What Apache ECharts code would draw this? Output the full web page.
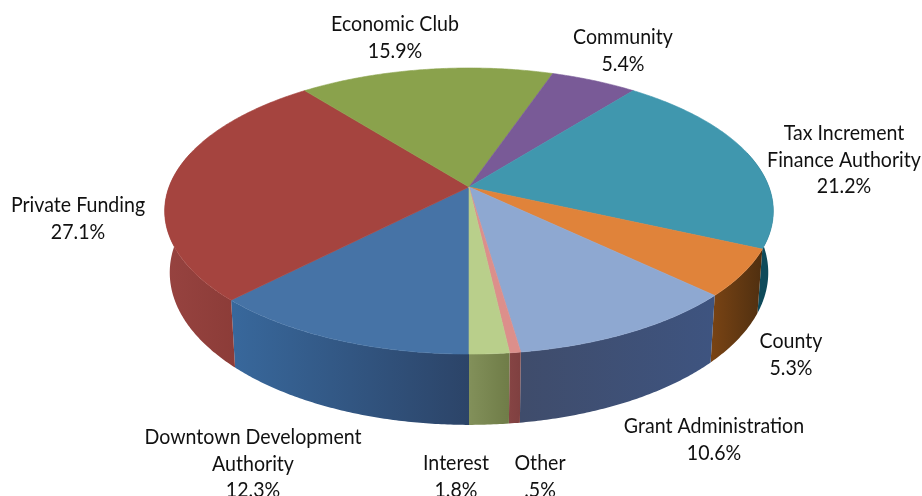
<!DOCTYPE html>
<html><head><meta charset="utf-8">
<style>html,body{margin:0;padding:0;background:#fff}#c{width:922px;height:496px}</style>
<script src="https://cdn.jsdelivr.net/npm/echarts@6/dist/echarts.min.js"></script>
</head><body><div id="c"></div>
<script>
// Data, clockwise from the bottom of the pie
const categories = ["Downtown Development\nAuthority","Private Funding","Economic Club","Community","Tax Increment\nFinance Authority","County","Grant Administration","Other","Interest"];
const values = [12.3,27.1,15.9,5.4,21.2,5.3,10.6,0.5,1.8];
const valueLabels = ["12.3%","27.1%","15.9%","5.4%","21.2%","5.3%","10.6%",".5%","1.8%"];

// Styles
const topColors = ["#4673a6","#a5443f","#8aa24c","#795a97","#4097ae","#e0833a","#8ea8d1","#dc8f8b","#b9cf8b"];
const sideLeft  = ["#38689c","#974340","#6f8a3c","#5f4478","#0e4a5a","#7a4414","#3f4c6b","#864444","#82905a"];
const sideRight = ["#2c4468","#8c3c38","#6f8a3c","#5f4478","#0e4a5a","#4f2f10","#3e5480","#7f4040","#6f7c47"];
const labelCenters = [[253,437],[78,205],[395,24],[623,37],[844,133],[791,341],[714,426],[540,463],[456,463]];
const LINE = 26.5, FONT = 'Lato', FSIZE = 22, SX = 0.89;

// Perspective projection of the tilted disc: upper rim and lower rim
const CX = 469, CY = 187, K = 0.168;
const UPPER = {a:139, b:300, c:0}, LOWER = {a:148, b:295, c:60};
function pt(deg, lower) {
  const r = lower ? LOWER : UPPER;
  const t = deg * Math.PI / 180, w = 1 - K * Math.cos(t);
  return [CX - r.b * Math.sin(t) / w, CY + r.c + r.a * Math.cos(t) / w];
}
const total = values.reduce((a, b) => a + b, 0);
const starts = []; values.reduce((acc, v, i) => (starts[i] = acc, acc + v), 0);
const range = i => [starts[i] / total * 360, (starts[i] + values[i]) / total * 360];
function arc(a0, a1, lower) {
  const n = Math.max(2, Math.ceil((a1 - a0) * 2)), out = [];
  for (let j = 0; j <= n; j++) out.push(pt(a0 + (a1 - a0) * j / n, lower));
  return out;
}
function sidePoly(a0, a1) {
  return arc(a0, a1, false).concat(arc(a0, a1, true).reverse());
}
function grad(c0, c1) {
  return new echarts.graphic.LinearGradient(0, 0, 1, 0, [{offset:0,color:c0},{offset:1,color:c1}]);
}
function renderSide(p, api) {
  const i = p.dataIndex, [a0, a1] = range(i), kids = [];
  // only the part of the wall that faces the viewer
  [[0,105],[255,360]].forEach(([lo, hi]) => {
    const s = Math.max(a0, lo), e = Math.min(a1, hi);
    if (e > s) kids.push({type:'polygon', shape:{points:sidePoly(s, e)},
      style:{fill:grad(sideLeft[i], sideRight[i])}});
  });
  return {type:'group', children:kids};
}
function renderTop(p, api) {
  const i = p.dataIndex, [a0, a1] = range(i);
  return {type:'polygon', shape:{points:[[CX,CY]].concat(arc(a0, a1, false))},
    style:{fill:topColors[i], stroke:topColors[i], lineWidth:0.6}};
}
function renderLabel(p, api) {
  const i = p.dataIndex, lines = categories[i].split('\n').concat(valueLabels[i]);
  const [x, y] = labelCenters[i];
  return {type:'group', children: lines.map((t, j) => ({
    type:'text', x:x, y:y + j * LINE, scaleX:SX,
    style:{text:t, fill:'#111', font:FSIZE + 'px ' + FONT, textAlign:'center', textVerticalAlign:'middle'}
  }))};
}
const seriesData = categories.map((c, i) => ({name:c, value:values[i]}));
const chart = echarts.init(document.getElementById('c'), null, {renderer:'canvas', width:922, height:496});
chart.setOption({
  animation:false, backgroundColor:'#fff',
  series:[
    {type:'custom', coordinateSystem:'none', z:1, renderItem:renderSide, data:seriesData, silent:true},
    {type:'custom', coordinateSystem:'none', z:2, renderItem:renderTop, data:seriesData, silent:true},
    {type:'custom', coordinateSystem:'none', z:3, renderItem:renderLabel, data:seriesData, silent:true}
  ]
});
</script></body></html>
